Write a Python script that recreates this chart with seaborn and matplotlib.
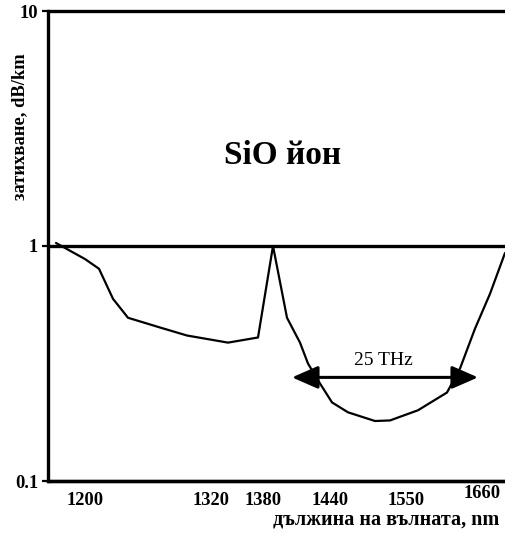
import numpy as np
import matplotlib
matplotlib.use("Agg")
import matplotlib.pyplot as plt
import matplotlib.transforms as mtransforms
import seaborn as sns

# horizontal position along the (non-linear) wavelength axis, and attenuation dB/km
pos = [8, 37, 51, 65, 80, 112, 139, 180, 210, 225, 239, 252, 260, 272, 284,
       300, 327, 342, 370, 399, 412, 427, 442, 457]
atten = [1.03, 0.88, 0.80, 0.596, 0.495, 0.45, 0.416, 0.388, 0.408, 1.0, 0.495,
         0.388, 0.316, 0.26, 0.216, 0.196, 0.18, 0.181, 0.2, 0.238, 0.301,
         0.445, 0.626, 0.934]

tick_pos = [37, 163, 215, 282, 358, 434]
tick_labels = ["1200", "1320", "1380", "1440", "1550", "1660"]
y_ticks = [0.1, 1, 10]
y_tick_labels = ["0.1", "1", "10"]

arrow_x = [244, 430]
arrow_y = 0.276
arrow_text = "25 THz"
title_text = "SiO йон"
xlabel = "дължина на вълната, nm"
ylabel = "затихване, dB/km"

sns.set_style("white")
plt.rcParams["font.family"] = ["Liberation Serif", "DejaVu Serif"]
plt.rcParams["font.weight"] = "bold"
for k in ["text.color", "axes.labelcolor", "xtick.color", "ytick.color"]:
    plt.rcParams[k] = "black"

fig = plt.figure(figsize=(5.05, 5.34), dpi=100)
ax = fig.add_axes([48 / 505, 53 / 534, 457 / 505, 470 / 534])

sns.lineplot(x=pos, y=atten, ax=ax, color="black", lw=1.6, sort=False)

ax.set_yscale("log")
ax.set_ylim(0.1, 10)
ax.set_xlim(0, 457)
ax.set_yticks(y_ticks)
ax.set_yticklabels(y_tick_labels, fontsize=13.3, fontweight="bold")
ax.yaxis.set_minor_locator(matplotlib.ticker.NullLocator())
ax.set_xticks(tick_pos)
ax.set_xticklabels(tick_labels, fontsize=13.3, fontweight="bold")
ax.tick_params(axis="y", which="major", length=4, width=1.6, pad=3,
               left=True, color="black")
ax.tick_params(axis="x", length=0, pad=8)

# raise the last x label slightly as in the original
lab = ax.get_xticklabels()[-1]
lab.set_transform(lab.get_transform() +
                  mtransforms.ScaledTranslation(0, 5 / 72, fig.dpi_scale_trans))

ax.yaxis.grid(True, which="major", color="black", lw=2.4)
ax.xaxis.grid(False)
for gl in ax.get_ygridlines():
    gl.set_clip_on(False)
for s in ["top", "right"]:
    ax.spines[s].set_visible(False)
for s in ["left", "bottom"]:
    ax.spines[s].set_color("black")
    ax.spines[s].set_linewidth(2.4)
ax.set_xlabel("")
ax.set_ylabel("")

ax.annotate("", xy=(arrow_x[0], arrow_y), xytext=(arrow_x[1], arrow_y),
            arrowprops=dict(arrowstyle="<|-|>,head_length=1.6,head_width=0.7",
                            color="black", lw=2.2, shrinkA=0, shrinkB=0,
                            mutation_scale=10))
ax.text(np.mean(arrow_x) - 2, 0.325, arrow_text, ha="center", va="center",
        fontsize=14, fontweight="normal")

ax.text(235, 2.43, title_text, ha="center", va="center", fontsize=24,
        fontweight="bold")

fig.text(386 / 505, 1 - 520 / 534, xlabel, ha="center", va="center",
         fontsize=14.5, fontweight="bold")
fig.text(20 / 505, 1 - 127 / 534, ylabel, ha="center", va="center",
         rotation=90, fontsize=13.3, fontweight="bold")

fig.savefig("out.png", dpi=100)
